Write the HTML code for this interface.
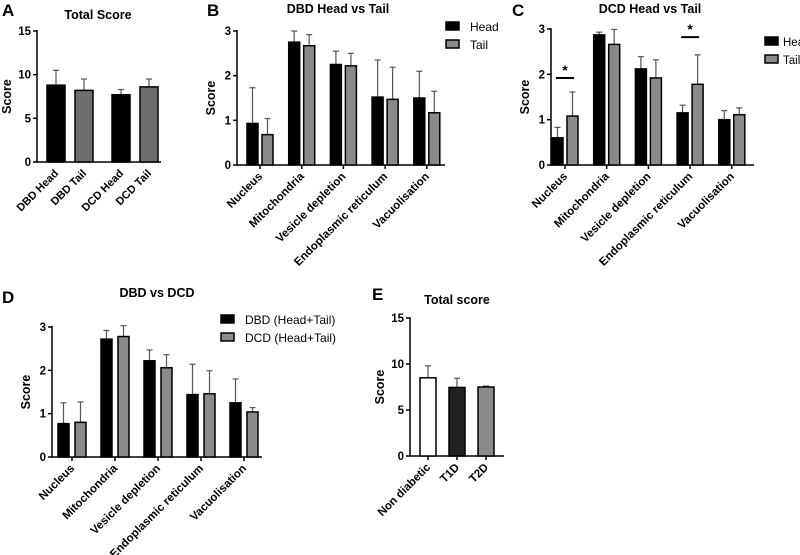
<!DOCTYPE html>
<html><head><meta charset="utf-8">
<style>
html,body{margin:0;padding:0;background:#fff;}
svg{display:block;font-family:"Liberation Sans",Arial,sans-serif;}
text{font-weight:bold;fill:#000;}
</style></head>
<body>
<svg id="fig" width="800" height="555" viewBox="0 0 800 555"></svg>
<script>
// ---- data ----
const catsA = ["DBD Head","DBD Tail","DCD Head","DCD Tail"];
const valsA = [8.8, 8.2, 7.7, 8.6];
const errA = [1.7, 1.3, 0.6, 0.9];
const cats5 = ["Nucleus","Mitochondria","Vesicle depletion","Endoplasmic reticulum","Vacuolisation"];
const bHead = [0.93, 2.75, 2.25, 1.52, 1.5];
const bHeadErr = [0.8, 0.25, 0.3, 0.83, 0.6];
const bTail = [0.68, 2.67, 2.22, 1.47, 1.17];
const bTailErr = [0.36, 0.25, 0.28, 0.72, 0.48];
const cHead = [0.6, 2.87, 2.12, 1.15, 1.0];
const cHeadErr = [0.23, 0.06, 0.27, 0.17, 0.2];
const cTail = [1.08, 2.66, 1.92, 1.78, 1.11];
const cTailErr = [0.53, 0.33, 0.4, 0.65, 0.15];
const dDBD = [0.77, 2.72, 2.22, 1.44, 1.25];
const dDBDErr = [0.48, 0.2, 0.25, 0.7, 0.55];
const dDCD = [0.8, 2.78, 2.06, 1.46, 1.04];
const dDCDErr = [0.47, 0.25, 0.3, 0.53, 0.1];
const catsE = ["Non diabetic","T1D","T2D"];
const valsE = [8.5, 7.45, 7.5];
const errE = [1.3, 1.0, 0.1];
const ticks15 = [0,5,10,15];
const ticks3 = [0,1,2,3];

const NS="http://www.w3.org/2000/svg";
const svg=document.getElementById('fig');
function mk(tag,attrs,parent,txt){
  const e=document.createElementNS(NS,tag);
  for(const k in attrs)e.setAttribute(k,attrs[k]);
  if(txt!==undefined)e.textContent=txt;
  (parent||svg).appendChild(e);return e;
}
function txt(x,y,s,size,anchor,parent,rot){
  const t=mk('text',{x:x,y:y,'font-size':size,'text-anchor':anchor||'middle'},parent,s);
  if(rot!==undefined)t.setAttribute('transform','rotate('+rot+' '+x+' '+y+')');
  return t;
}
function panel(p){
  const g=mk('g',{});
  
  
  const ymap=v=>p.y0+(p.y1-p.y0)*v/p.max;
  const ax=mk('g',{},g);
  
  
  mk('line',{x1:p.ax,y1:p.y0,x2:p.ax,y2:p.y1-1,stroke:'#000','stroke-width':1.5},ax);
  p.ticks.forEach(t=>{
    const y=ymap(t);
    mk('line',{x1:p.ax-4,y1:y,x2:p.ax,y2:y,stroke:'#000','stroke-width':1.5},ax);
    const l=txt(p.ax-6,y+4,String(t),11.5,'end',ax);
    
    
  });
  const yt=txt(p.ax-p.ytOff,(p.y0+p.y1)/2,'Score',12.5,'middle',g,-90);
  
  
  const xa=mk('g',{},g);
  
  
  mk('line',{x1:p.ax-0.75,y1:p.y0,x2:p.axEnd,y2:p.y0,stroke:'#000','stroke-width':1.5},xa);
  p.cats.forEach((c,i)=>{
    const cx=(p.gx?p.gx[i]:p.gx0+i*p.pitch);
    if(p.tickMarks) mk('line',{x1:cx,y1:p.y0,x2:cx,y2:p.y0+4,stroke:'#000','stroke-width':1.5},xa);
    const lab=txt(cx+3,p.y0+12,c,p.labSize,'end',xa,-45);
    
    
    p.series.forEach((s,k)=>{
      const bx=cx+s.off-p.bw/2;
      const v=s.vals[i], e=s.err[i];
      const yt=ymap(v), ye=ymap(v+e);
      const col=Array.isArray(s.fill)?s.fill[i]:s.fill;
      mk('line',{x1:bx+p.bw/2,y1:yt,x2:bx+p.bw/2,y2:ye,stroke:'#555','stroke-width':1.2},g);
      mk('line',{x1:bx+p.bw/2-3,y1:ye,x2:bx+p.bw/2+3,y2:ye,stroke:'#555','stroke-width':1.2},g);
      const r=mk('rect',{x:bx,y:yt,width:p.bw,height:p.y0-yt,fill:col,stroke:'#000','stroke-width':1.5},g);
      
      
    });
  });
  const t=txt(p.tx,p.ty,p.title,12.5,'middle',g);
  
  
  const L=txt(p.lx,p.ly,p.letter,17,'start',g);
  
  
  if(p.legend){
    p.legend.forEach((l,k)=>{
      const lg=mk('g',{},g);
      
      
      mk('rect',{x:p.legX,y:p.legY+k*18-5,width:13,height:8,fill:l.fill,stroke:'#000','stroke-width':1.5},lg);
      const tt=txt(p.legX+p.legOff,p.legY+k*18+4,l.label,p.legSize||12,'start',lg);
      tt.style.fontWeight='normal';
    });
  }
  return {g,ymap};
}
const GRAY='#8a8a8a';
// A
panel({name:'panel-a-total-score',cats:catsA,ax:37,axEnd:161,y0:162,y1:31,max:15,ticks:ticks15,
  gx:[56,84,121,149],bw:18,tickMarks:false,labSize:11,ytOff:26,
  series:[{key:'score',vals:valsA,err:errA,fill:['#000','#6e6e6e','#000','#6e6e6e'],off:0}],
  title:'Total Score',tx:98,ty:19,letter:'A',lx:2,ly:16});
// B
panel({name:'panel-b-dbd-head-vs-tail',cats:cats5,ax:237,axEnd:445,y0:165,y1:31,max:3,ticks:ticks3,
  gx0:260,pitch:41.7,bw:11,tickMarks:true,labSize:11.5,ytOff:22,
  series:[{key:'head',vals:bHead,err:bHeadErr,fill:'#000',off:-7.5},{key:'tail',vals:bTail,err:bTailErr,fill:GRAY,off:7.5}],
  title:'DBD Head vs Tail',tx:338,ty:13,letter:'B',lx:207,ly:16,
  legend:[{label:'Head',fill:'#000'},{label:'Tail',fill:GRAY}],legX:446,legY:27,legOff:24});
// C
const C=panel({name:'panel-c-dcd-head-vs-tail',cats:cats5,ax:551,axEnd:754,y0:165,y1:29,max:3,ticks:ticks3,
  gx0:565,pitch:41.7,bw:11,tickMarks:true,labSize:11.5,ytOff:22,
  series:[{key:'head',vals:cHead,err:cHeadErr,fill:'#000',off:-7.5},{key:'tail',vals:cTail,err:cTailErr,fill:GRAY,off:7.5}],
  title:'DCD Head vs Tail',tx:650,ty:13,letter:'C',lx:512,ly:16,
  legend:[{label:'Head',fill:'#000'},{label:'Tail',fill:GRAY}],legX:765,legY:42,legOff:18,legSize:11.5});
[[0,1.92],[3,2.82]].forEach(([i,v])=>{
  const cx=565+i*41.7, y=C.ymap(v);
  const s=mk('g',{});
  
  
  mk('line',{x1:cx-9,y1:y,x2:cx+9,y2:y,stroke:'#000','stroke-width':2},s);
  txt(cx,y-3,'*',14,'middle',s);
});
// D
panel({name:'panel-d-dbd-vs-dcd',cats:cats5,ax:52,axEnd:262,y0:457,y1:327,max:3,ticks:ticks3,
  gx0:72,pitch:43,bw:11,tickMarks:true,labSize:11.5,ytOff:22,
  series:[{key:'dbd',vals:dDBD,err:dDBDErr,fill:'#000',off:-8.5},{key:'dcd',vals:dDCD,err:dDCDErr,fill:GRAY,off:8.5}],
  title:'DBD vs DCD',tx:157,ty:297,letter:'D',lx:2,ly:303,
  legend:[{label:'DBD (Head+Tail)',fill:'#000'},{label:'DCD (Head+Tail)',fill:GRAY}],legX:221,legY:320,legOff:24});
// E
panel({name:'panel-e-total-score',cats:catsE,ax:410,axEnd:504,y0:456,y1:318,max:15,ticks:ticks15,
  gx0:428,pitch:29,bw:16,tickMarks:true,labSize:11.5,ytOff:26,
  series:[{key:'score',vals:valsE,err:errE,fill:['#fff','#222','#8a8a8a'],off:0}],
  title:'Total score',tx:457,ty:304,letter:'E',lx:372,ly:300});
</script>
</body></html>
